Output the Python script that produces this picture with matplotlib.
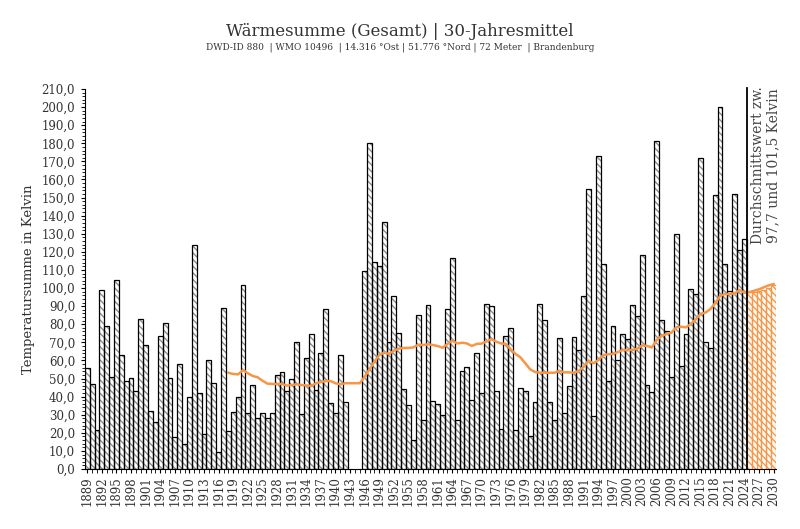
import numpy as np
import matplotlib
matplotlib.use('Agg')
import matplotlib.pyplot as plt
from matplotlib.ticker import MultipleLocator, FixedLocator, FuncFormatter

plt.rcParams['font.family'] = 'DejaVu Serif'
plt.rcParams['hatch.linewidth'] = 1.0

# Jahreswerte 1889-2024 (1943-1945 fehlen)
jahre = list(range(1889, 2025))
waermesumme = [
    55.6, 46.8, 21.7, 98.7, 79.2, 50.6, 104.2, 63.0, 48.8, 50.5,
    42.9, 82.7, 68.5, 32.2, 25.8, 73.7, 80.5, 50.1, 17.5, 58.0,
    13.6, 39.6, 123.8, 41.8, 19.2, 60.2, 47.3, 9.2, 88.8, 21.0,
    31.5, 39.6, 101.7, 30.8, 46.2, 28.0, 31.1, 28.0, 30.8, 52.1,
    53.4, 42.9, 49.9, 70.3, 30.2, 61.5, 74.4, 43.6, 64.1, 88.4,
    36.3, 31.1, 63.0, 37.0,
    np.nan, np.nan, np.nan,
    109.2, 180.2, 114.2, 112.0, 136.6, 70.0, 95.8, 75.0, 44.2, 35.2,
    16.0, 84.9, 27.1, 90.4, 37.4, 36.1, 29.7, 88.4, 116.6, 26.9,
    54.3, 56.2, 38.3, 64.3, 41.8, 91.3, 89.9, 42.9, 22.1, 73.5,
    77.7, 21.7, 44.8, 42.9, 18.0, 37.2, 91.3,
    82.3, 36.8, 26.9, 72.6, 30.8, 46.0, 72.7, 65.6, 95.8, 154.7,
    29.5, 172.7, 113.1, 48.6, 79.2, 60.2, 74.6, 71.6, 90.6, 84.3,
    118.0, 46.4, 42.7, 181.5, 82.3, 76.1, 51.0, 129.7, 57.1, 74.4,
    99.4, 96.9, 171.8, 70.0, 66.7, 151.2, 199.9, 113.1, 98.5, 152.0,
    120.8, 127.0,
]

# Prognose 2025-2030
prognose_jahre = list(range(2025, 2031))
prognose = [97.7, 97.9, 98.4, 99.1, 100.0, 101.5]

# 30-Jahresmittel
mittel_jahre = list(range(1918, 2031))
mittel30 = [
    53.2, 52.5, 52.3, 54.7, 52.9, 51.4, 50.7, 48.8, 47.2, 47.0,
    47.0, 47.0, 46.1, 46.4, 46.8, 46.4, 46.2, 45.9, 47.4, 48.1,
    48.6, 48.6, 47.4, 46.8, 47.4, 47.4, 47.4, 47.4, 51.0, 55.1,
    59.3, 63.0, 64.3, 63.6, 65.4, 66.5, 66.9, 66.9, 67.2, 68.7,
    68.5, 68.9, 68.5, 68.0, 67.0, 69.1, 70.9, 69.4, 69.8, 69.4,
    68.0, 69.1, 69.3, 70.4, 71.8, 70.4, 69.4, 69.1, 66.1, 63.6,
    61.7, 58.4, 55.1, 53.6, 53.2, 53.2, 53.2, 53.2, 54.3, 53.4,
    53.4, 53.2, 54.3, 56.5, 59.9, 58.4, 60.2, 63.0, 63.4, 63.6,
    64.6, 65.8, 65.6, 65.8, 66.5, 68.3, 68.0, 67.2, 71.3, 73.5,
    74.6, 75.3, 78.3, 78.6, 78.3, 80.1, 82.7, 85.7, 86.4, 88.3,
    91.6, 95.6, 96.7, 96.7, 97.1, 98.9, 97.4, 97.7, 98.5, 99.3,
    100.4, 101.5, 102.2,
]

orange = '#f79646'

fig = plt.figure(figsize=(8, 5.29), dpi=100)
ax = fig.add_axes([0.106, 0.1134, 0.864, 0.7184])

# hatch first, then outlines on top
ax.bar(jahre, waermesumme, width=1.0, color='white', edgecolor='#8c8c8c',
       hatch='\\\\\\\\\\', linewidth=0)
ax.bar(jahre, waermesumme, width=1.0, fill=False, edgecolor='black', linewidth=0.9)
ax.bar(prognose_jahre, prognose, width=1.0, color='white', edgecolor=orange,
       hatch='\\\\\\\\\\', linewidth=0)
ax.bar(prognose_jahre, prognose, width=1.0, fill=False, edgecolor=orange, linewidth=0.9)

ax.plot(mittel_jahre, mittel30, color=orange, lw=1.8, zorder=5)

ax.plot([2024.5, 2024.5], [0, 210.5], color='black', lw=1.3, clip_on=False, zorder=6)
ax.text(2025.3, 211.5, 'Durchschnittswert zw.\n97,7 und 101,5 Kelvin', rotation=90,
        ha='left', va='top', multialignment='center', fontsize=10, color='#444444',
        linespacing=1.15)

ax.set_xlim(1888.5, 2030.5)
ax.set_ylim(0, 210)

ax.xaxis.set_major_locator(FixedLocator(list(range(1889, 2031, 3))))
ax.xaxis.set_minor_locator(MultipleLocator(1))
ax.tick_params(axis='x', which='major', labelrotation=90, labelsize=8.5, length=3, pad=2,
               colors='black', labelcolor='#333333')
ax.tick_params(axis='x', which='minor', length=3)

ax.yaxis.set_major_locator(MultipleLocator(10))
ax.yaxis.set_minor_locator(MultipleLocator(2))
ax.yaxis.set_major_formatter(FuncFormatter(lambda v, p: f'{v:.1f}'.replace('.', ',')))
ax.tick_params(axis='y', which='major', labelsize=8.5, length=3, pad=4, labelcolor='#333333')
ax.tick_params(axis='y', which='minor', length=2)

for s in ['top', 'right']:
    ax.spines[s].set_visible(False)

ax.set_ylabel('Temperatursumme in Kelvin', fontsize=9.5, color='#333333')
ax.yaxis.set_label_coords(-0.072, 0.5)

fig.text(0.5, 0.94, 'Wärmesumme (Gesamt) | 30-Jahresmittel', ha='center', va='center',
         fontsize=12, color='#333333')
fig.text(0.5, 0.911, 'DWD-ID 880  | WMO 10496  | 14.316 °Ost | 51.776 °Nord | 72 Meter  | Brandenburg',
         ha='center', va='center', fontsize=6.5, color='#333333')

fig.savefig('out.png', dpi=100)
